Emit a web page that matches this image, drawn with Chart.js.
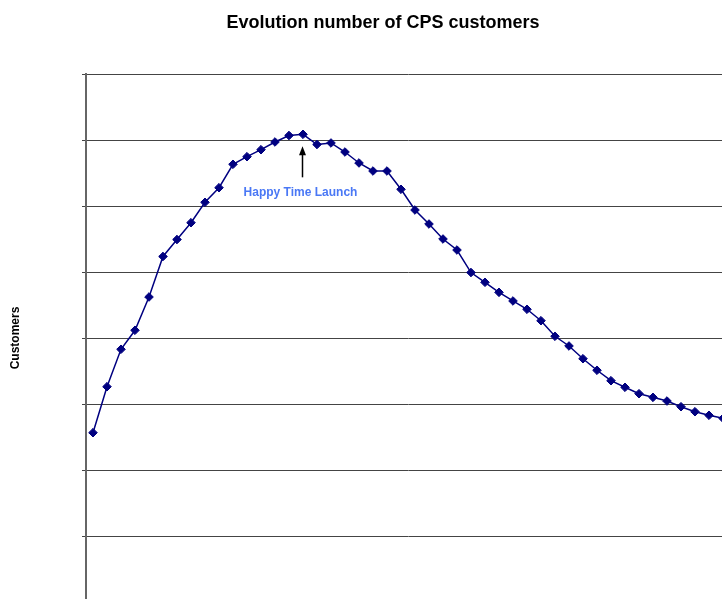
<!DOCTYPE html>
<html>
<head>
<meta charset="utf-8">
<title>Evolution number of CPS customers</title>
<script src="https://cdn.jsdelivr.net/npm/chart.js@4"></script>
<style>
  html, body { margin: 0; padding: 0; overflow: hidden; background: #fff; }
  #wrap { width: 766px; height: 620px; }
</style>
</head>
<body>
<div id="wrap"><canvas id="chart"></canvas></div>
<script>
// periods (x labels are cut off in the reference, so plain period numbers)
const periods = ['1', '2', '3', '4', '5', '6', '7', '8', '9', '10',
  '11', '12', '13', '14', '15', '16', '17', '18', '19', '20',
  '21', '22', '23', '24', '25', '26', '27', '28', '29', '30',
  '31', '32', '33', '34', '35', '36', '37', '38', '39', '40',
  '41', '42', '43', '44', '45', '46'];
const customers = [2565, 3262, 3829, 4117, 4621, 5235, 5492, 5747, 6056, 6277,
  6632, 6747, 6853, 6970, 7068, 7086, 6932, 6955, 6818, 6652,
  6530, 6530, 6253, 5939, 5727, 5500, 5333, 4992, 4844, 4692,
  4561, 4435, 4262, 4026, 3879, 3686, 3511, 3353, 3253, 3156,
  3101, 3045, 2959, 2883, 2829, 2783];
const yTicks = [0, 1000, 2000, 3000, 4000, 5000, 6000, 7000, 8000];
const launchIndex = 15; // the peak point, where Happy Time was launched
const launchText = 'Happy Time Launch';

const navy = '#000080';

// arrow + label under the launch point
const launchNote = {
  id: 'launchNote',
  afterDatasetsDraw(chart) {
    const pt = chart.getDatasetMeta(0).data[launchIndex];
    if (!pt) return;
    const ctx = chart.ctx;
    const x = Math.round(pt.x) - 0.5;
    ctx.save();
    ctx.strokeStyle = '#000';
    ctx.fillStyle = '#000';
    ctx.lineWidth = 1.5;
    ctx.beginPath();
    ctx.moveTo(x, pt.y + 43);
    ctx.lineTo(x, pt.y + 19);
    ctx.stroke();
    ctx.beginPath();
    ctx.moveTo(x, pt.y + 12);
    ctx.lineTo(x - 3.5, pt.y + 21);
    ctx.lineTo(x + 3.5, pt.y + 21);
    ctx.closePath();
    ctx.fill();
    ctx.font = 'bold 12px Arial, "Liberation Sans", sans-serif';
    ctx.fillStyle = '#4a78f5';
    ctx.textAlign = 'center';
    ctx.textBaseline = 'alphabetic';
    ctx.fillText(launchText, x - 2, pt.y + 62);
    ctx.restore();
  },
};

Chart.defaults.font.family = 'Arial, "Liberation Sans", sans-serif';

new Chart(document.getElementById('chart').getContext('2d'), {
  type: 'line',
  data: {
    labels: periods,
    datasets: [{
      label: 'Customers',
      data: customers,
      borderColor: navy,
      backgroundColor: navy,
      borderWidth: 1.5,
      pointStyle: 'rectRot',
      pointRadius: 4.3,
      pointBorderWidth: 1,
      pointBackgroundColor: navy,
      pointBorderColor: navy,
      tension: 0,
      fill: false,
    }],
  },
  options: {
    responsive: true,
    maintainAspectRatio: false,
    animation: false,
    layout: { padding: { left: 0, right: 0, top: 0, bottom: 18 } },
    plugins: {
      legend: { display: false },
      tooltip: { enabled: false },
      title: {
        display: true,
        text: 'Evolution number of CPS customers',
        color: '#000',
        font: { size: 18, weight: 'bold' },
        padding: { top: 12, bottom: 40.4 },
      },
    },
    scales: {
      x: {
        display: false,
        offset: true,
      },
      y: {
        min: yTicks[0],
        max: yTicks[yTicks.length - 1],
        afterBuildTicks(scale) { scale.ticks = yTicks.map(v => ({ value: v })); },
        afterFit(scale) { scale.width = 86; },
        ticks: { display: false },
        grid: { color: '#444', lineWidth: 1, drawTicks: true, tickLength: 4 },
        border: { display: true, color: '#666', width: 2 },
        title: {
          display: true,
          text: 'Customers',
          color: '#000',
          font: { size: 12, weight: 'bold' },
          padding: { top: 8.8, bottom: 0 },
        },
      },
      // empty right-hand box so the plot stops where the reference's does
      yRight: {
        position: 'right',
        display: true,
        afterFit(scale) { scale.width = 36; },
        ticks: { display: false },
        grid: { display: false, drawTicks: false },
        border: { display: false },
      },
    },
  },
  plugins: [launchNote],
});
</script>
</body>
</html>
